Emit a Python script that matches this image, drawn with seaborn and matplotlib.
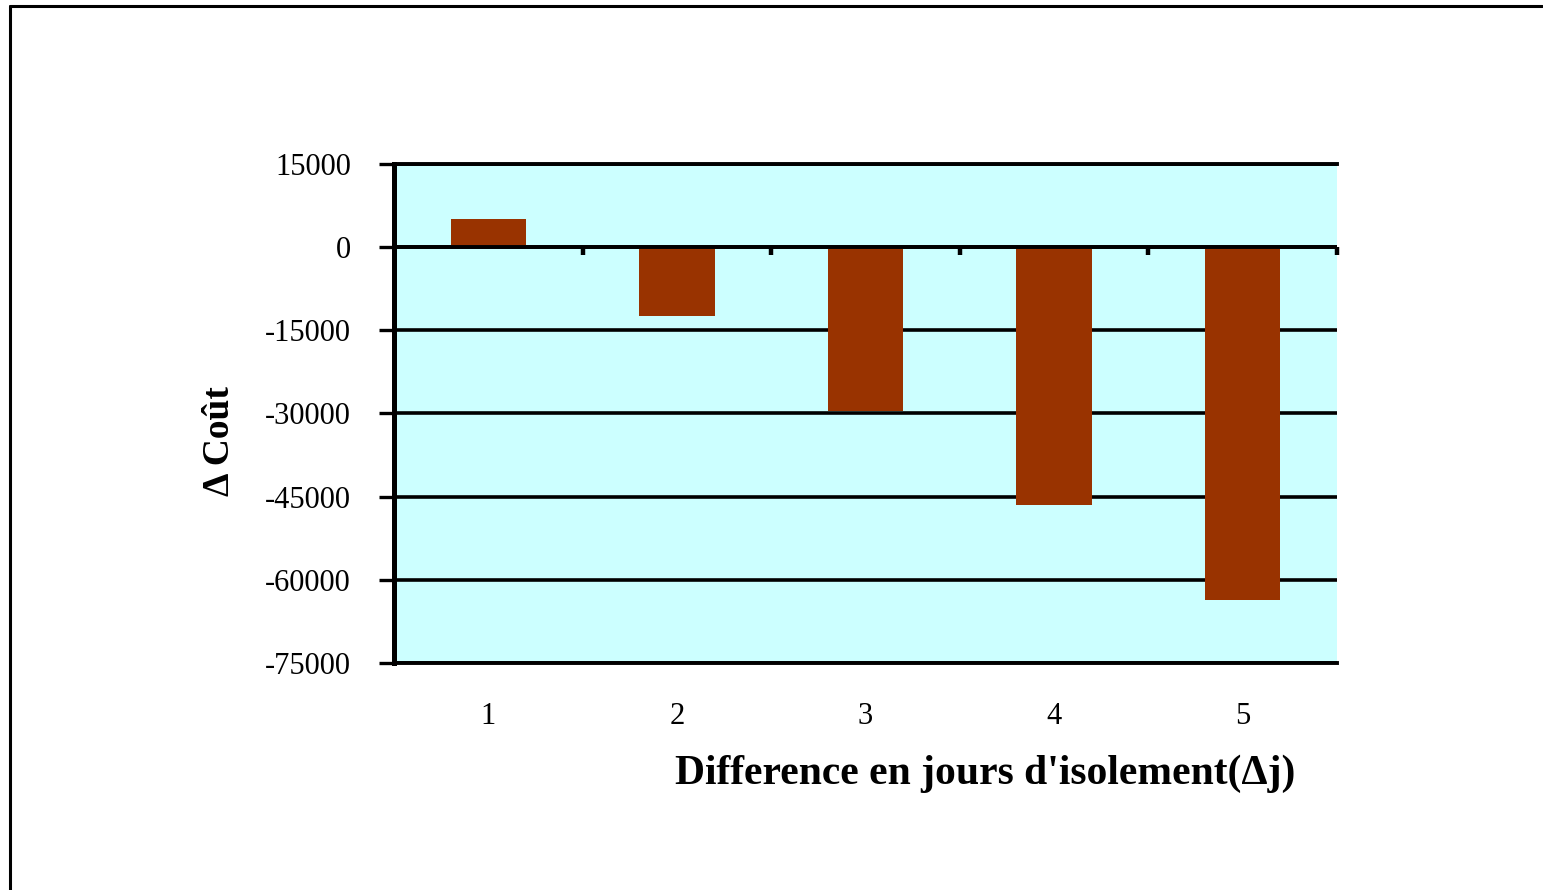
import pandas as pd
import numpy as np
import matplotlib
matplotlib.use("Agg")
import matplotlib.pyplot as plt
import seaborn as sns
from matplotlib.lines import Line2D

#data
jours = ["1", "2", "3", "4", "5"]
delta_cout = [5000, -12500, -29500, -46600, -63600]
yticks = [15000, 0, -15000, -30000, -45000, -60000, -75000]

df = pd.DataFrame({"jours": jours, "cout": delta_cout})

sns.set_style("white")
plt.rcParams['font.family'] = ['Liberation Serif', 'DejaVu Serif']
plt.rcParams['text.color'] = 'black'
plt.rcParams['xtick.color'] = 'black'
plt.rcParams['ytick.color'] = 'black'

fig = plt.figure(figsize=(15.43, 8.90), dpi=100)
ax = fig.add_axes([0.2553, 0.2551, 0.6112, 0.5607])
ax.set_facecolor("#CCFFFF")

#bar plot
sns.barplot(x="jours", y="cout", data=df, order=jours, color="#993300",
            saturation=1, width=0.4, linewidth=0, ax=ax, zorder=3)

ax.set_ylim(-75000, 15000)
ax.set_xlim(-0.5, len(jours) - 0.5)
ax.set_yticks(yticks)
ax.set_yticklabels([str(t) for t in yticks])

#gridlines
ax.yaxis.grid(True, color="black", linewidth=2.6, zorder=1)
ax.set_axisbelow(True)

ax.spines["right"].set_visible(False)
ax.spines["left"].set_linewidth(3.6)
ax.spines["top"].set_linewidth(2.8)
ax.spines["bottom"].set_linewidth(2.8)
for s in ["left", "top", "bottom"]:
    ax.spines[s].set_color("black")

ax.tick_params(axis="y", direction="out", length=11, width=2.4, pad=20,
               labelsize=22, left=True)
ax.tick_params(axis="x", length=0, pad=28, labelsize=22)

#zero line with category separators
bounds = np.arange(len(jours)) + 0.5
ax.axhline(0, color="black", linewidth=2.8, zorder=4)
ax.vlines(bounds, -1500, 0, colors="black", linewidth=3.2, zorder=4, clip_on=False)

ax.set_xlabel("")
ax.set_ylabel("")

fig.text(0.1425, 0.504, "\u0394 Co\u00fbt", rotation=90, fontsize=27,
         fontweight="bold", ha="center", va="center")
fig.text(0.6385, 0.131, "Difference en jours d'isolement(\u0394j)", fontsize=30,
         fontweight="bold", ha="center", va="center")

#outer frame
x0 = 10 / 1543
y1 = 1 - 6 / 890
fig.add_artist(Line2D([x0, x0], [0, y1], color="black", linewidth=2.2))
fig.add_artist(Line2D([x0, 1542 / 1543], [y1, y1], color="black", linewidth=2.2))

plt.savefig("out.png", dpi=100)
